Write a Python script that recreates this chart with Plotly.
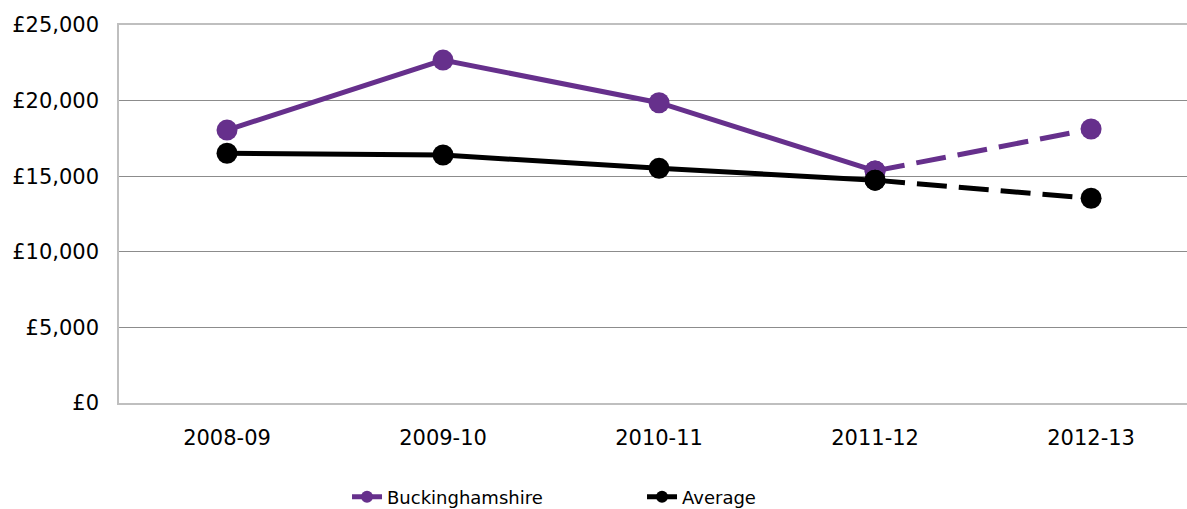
import plotly.graph_objects as go

# Data
years = ['2008-09', '2009-10', '2010-11', '2011-12', '2012-13']
bucks = [18050, 22680, 19860, 15350, 18120]
average = [16520, 16400, 15520, 14740, 13540]

purple = '#66308C'
black = '#000000'
font_family = 'Verdana, DejaVu Sans, sans-serif'

fig = go.Figure()

series = [('Buckinghamshire', bucks, purple), ('Average', average, black)]

for name, vals, color in series:
    # solid part (actuals)
    fig.add_trace(go.Scatter(
        x=years[:4], y=vals[:4],
        name=name, legendgroup=name,
        mode='lines+markers',
        line=dict(color=color, width=5),
        marker=dict(color=color, size=21),
    ))
    # dashed part (projection)
    fig.add_trace(go.Scatter(
        x=years[3:], y=vals[3:],
        name=name, legendgroup=name, showlegend=False,
        mode='lines+markers',
        line=dict(color=color, width=5, dash='30px,12px'),
        marker=dict(color=color, size=21),
    ))

fig.update_layout(
    width=1187, height=509,
    margin=dict(l=119, r=0, t=25, b=106, autoexpand=False),
    plot_bgcolor='white',
    paper_bgcolor='white',
    font=dict(family=font_family, size=21, color='#000000'),
    showlegend=True,
    legend=dict(
        orientation='h',
        x=0.2135, xanchor='left',
        y=-0.249, yanchor='middle',
        font=dict(family=font_family, size=18),
        entrywidth=250,
        entrywidthmode='pixels',
        itemsizing='constant',
    ),
)

fig.update_xaxes(
    type='category',
    range=[-0.5, 4.444],
    automargin=False,
    showgrid=False,
    showline=True, linecolor='#BFBFBF', linewidth=1.5,
    mirror=True,
    ticks='',
    ticklabelstandoff=15,
    tickfont=dict(size=21),
)

fig.update_yaxes(
    range=[0, 25000],
    dtick=5000,
    tickprefix='£',
    tickformat=',d',
    automargin=False,
    showgrid=True, gridcolor='#8C8C8C', gridwidth=1,
    showline=True, linecolor='#BFBFBF', linewidth=1.5,
    zeroline=False,
    ticks='',
    ticklabelstandoff=14,
    tickfont=dict(size=21),
)

# drop the default page margin so the figure sits at the window's top-left
fig.write_html('out.html',
               config={'displayModeBar': False},
               post_script="document.body.style.margin='0';"
                           "document.body.style.overflow='hidden';")
